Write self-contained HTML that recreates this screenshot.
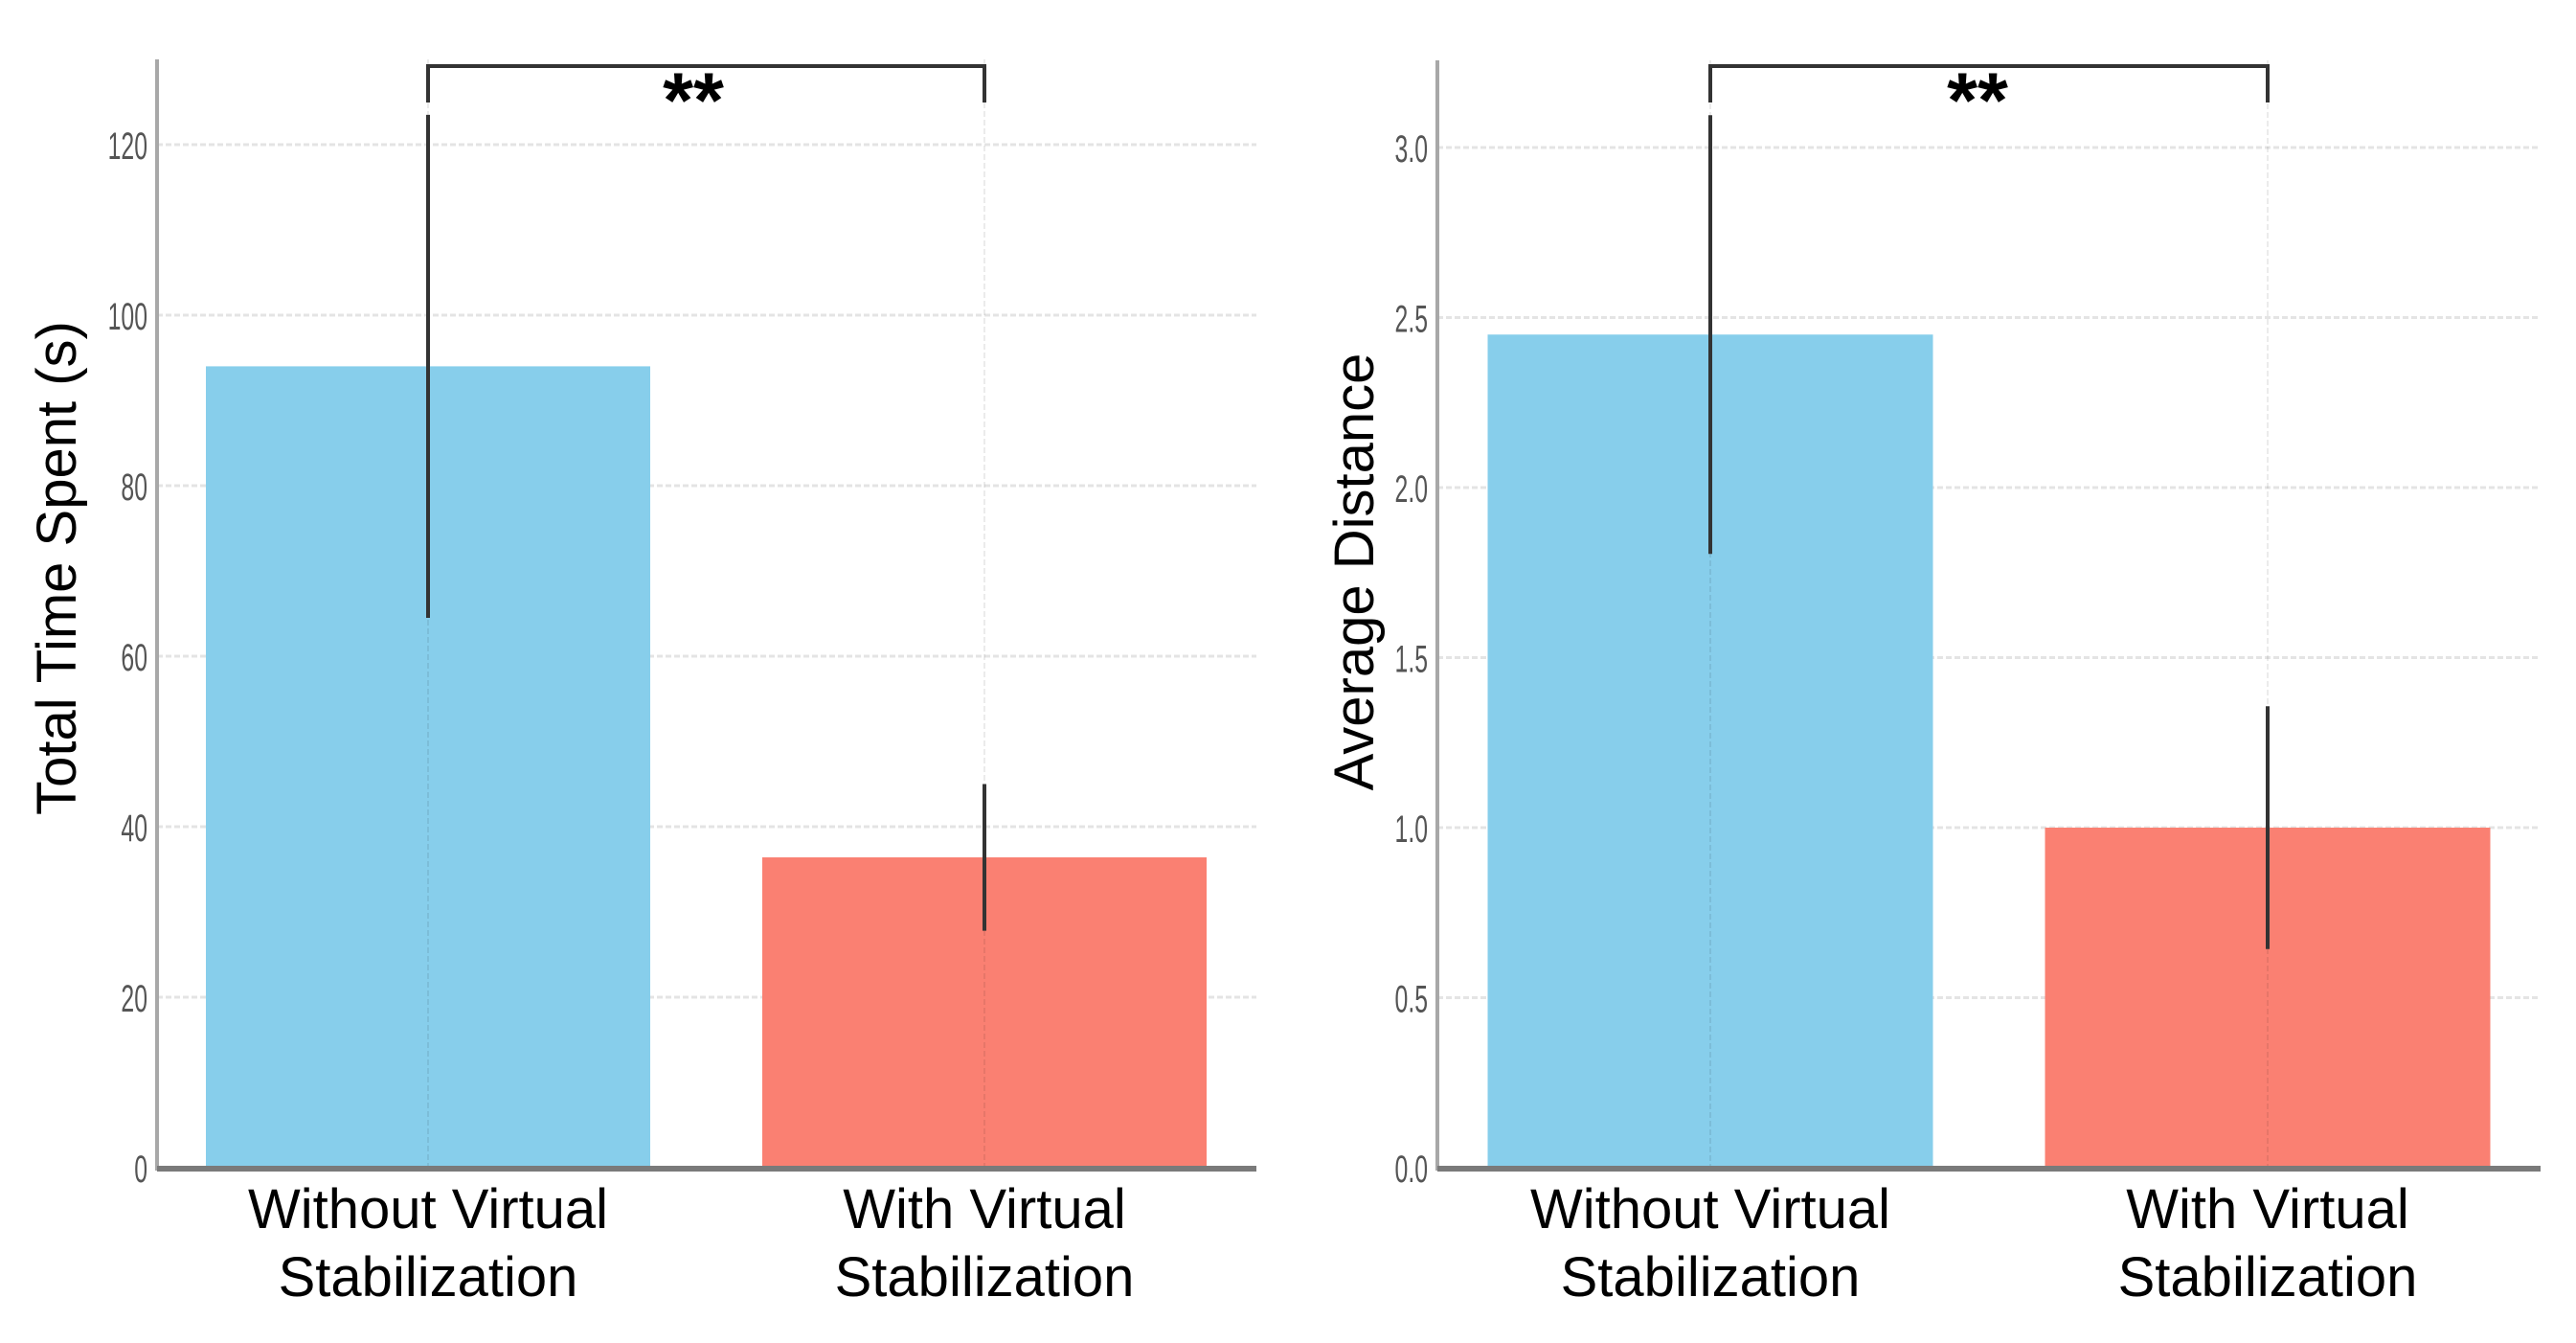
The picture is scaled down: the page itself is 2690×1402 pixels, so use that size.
<!DOCTYPE html>
<html><head><meta charset="utf-8">
<style>
html,body{margin:0;padding:0;background:#fff;}
svg{display:block;}
</style></head>
<body>
<svg id="fig" width="2690" height="1402" viewBox="0 0 2690 1402" xmlns="http://www.w3.org/2000/svg"></svg>
<script>
// ---- data ----
const categories = ["Without Virtual|Stabilization", "With Virtual|Stabilization"];
const timeMeans = [94.0, 36.4];
const timeErrs = [29.5, 8.6];
const timeTicks = [0, 20, 40, 60, 80, 100, 120];
const timeTickLabels = ["0", "20", "40", "60", "80", "100", "120"];
const distMeans = [2.45, 1.0];
const distErrs = [0.645, 0.357];
const distTicks = [0, 0.5, 1.0, 1.5, 2.0, 2.5, 3.0];
const distTickLabels = ["0.0", "0.5", "1.0", "1.5", "2.0", "2.5", "3.0"];
const sigLabel = "**";
const barColors = ["#87CEEB", "#FA8072"];

const NS = "http://www.w3.org/2000/svg";
const svg = document.getElementById("fig");
function mk(tag, attrs, parent) {
  const e = document.createElementNS(NS, tag);
  for (const k in attrs) e.setAttribute(k, attrs[k]);
  (parent || svg).appendChild(e);
  return e;
}

function panel(cfg) {
  const g = mk("g", {});
  
  
  const y = v => cfg.y0 - (v / cfg.unitV) * cfg.unitPx;
  const bw = cfg.barW;
  // grid horizontal
  cfg.ticks.forEach((t, i) => {
    const gl = mk("line", {x1: cfg.axX, x2: cfg.axR, y1: y(t), y2: y(t), stroke: "#e4e4e4", "stroke-width": 3, "stroke-dasharray": "6,3"}, g);
    
    
  });
  // bars
  cfg.means.forEach((m, i) => {
    const cx = cfg.centers[i];
    const r = mk("rect", {x: cx - bw / 2, y: y(m), width: bw, height: cfg.y0 - y(m), fill: barColors[i]}, g);
    
    
  });
  // vertical grid at centers
  cfg.centers.forEach(cx => {
    const gl = mk("line", {x1: cx, x2: cx, y1: cfg.axTop, y2: cfg.y0, stroke: "#000", "stroke-opacity": 0.08, "stroke-width": 2, "stroke-dasharray": "6,3"}, g);
    
    
  });
  // error bars
  cfg.means.forEach((m, i) => {
    const cx = cfg.centers[i];
    const l = mk("line", {x1: cx, x2: cx, y1: y(m + cfg.errs[i]), y2: y(m - cfg.errs[i]), stroke: "#333", "stroke-width": 4}, g);
    
    
  });
  // axes
  const ya = mk("line", {x1: cfg.axX, x2: cfg.axX, y1: cfg.axTop, y2: cfg.y0 + 3, stroke: "#a8a8a8", "stroke-width": 4}, g);
  
  
  const xa = mk("line", {x1: cfg.axX, x2: cfg.axR, y1: cfg.y0 + 1, y2: cfg.y0 + 1, stroke: "#7a7a7a", "stroke-width": 6}, g);
  
  
  // tick labels
  cfg.ticks.forEach((t, i) => {
    const tx = mk("text", {x: 0, y: 0, "font-family": "Liberation Sans, sans-serif", "font-size": 40, fill: "#555", "text-anchor": "end",
      transform: `translate(${cfg.axX - 10},${y(t) + 15}) scale(0.62,1)`}, g);
    tx.textContent = cfg.tickLabels[i];
    
    
  });
  // y title
  const yt = mk("text", {x: 0, y: 0, "font-family": "Liberation Sans, sans-serif", "font-size": 58, fill: "#000", "text-anchor": "middle",
    transform: `translate(${cfg.titleX + 20},${cfg.titleY}) rotate(-90)`}, g);
  yt.textContent = cfg.title;
  
  
  // x labels
  categories.forEach((c, i) => {
    const parts = c.split("|");
    parts.forEach((p, j) => {
      const t = mk("text", {x: cfg.centers[i], y: 1282 + j * 71, "font-family": "Liberation Sans, sans-serif", "font-size": 58, fill: "#000", "text-anchor": "middle"}, g);
      t.textContent = p;
      
      
    });
  });
  // significance bracket
  const br = mk("polyline", {points: `${cfg.centers[0]},107 ${cfg.centers[0]},69 ${cfg.centers[1]},69 ${cfg.centers[1]},107`, fill: "none", stroke: "#333", "stroke-width": 4}, g);
  
  
  const st = mk("text", {x: cfg.starX, y: 133, "font-family": "Liberation Sans, sans-serif", "font-size": 82, "font-weight": "bold", fill: "#000", "text-anchor": "middle"}, g);
  st.textContent = sigLabel;
  
  
}

panel({name: "time-chart", y0: 1219, unitV: 20, unitPx: 178, axX: 164, axR: 1312, axTop: 62,
  centers: [447, 1028], barW: 464, means: timeMeans, errs: timeErrs, ticks: timeTicks, tickLabels: timeTickLabels,
  title: "Total Time Spent (s)", titleX: 59, titleY: 593, starX: 724});
panel({name: "distance-chart", y0: 1219, unitV: 0.5, unitPx: 177.5, axX: 1501, axR: 2653, axTop: 63,
  centers: [1786, 2368], barW: 465, means: distMeans, errs: distErrs, ticks: distTicks, tickLabels: distTickLabels,
  title: "Average Distance", titleX: 1414, titleY: 597, starX: 2065});
</script>
</body></html>
